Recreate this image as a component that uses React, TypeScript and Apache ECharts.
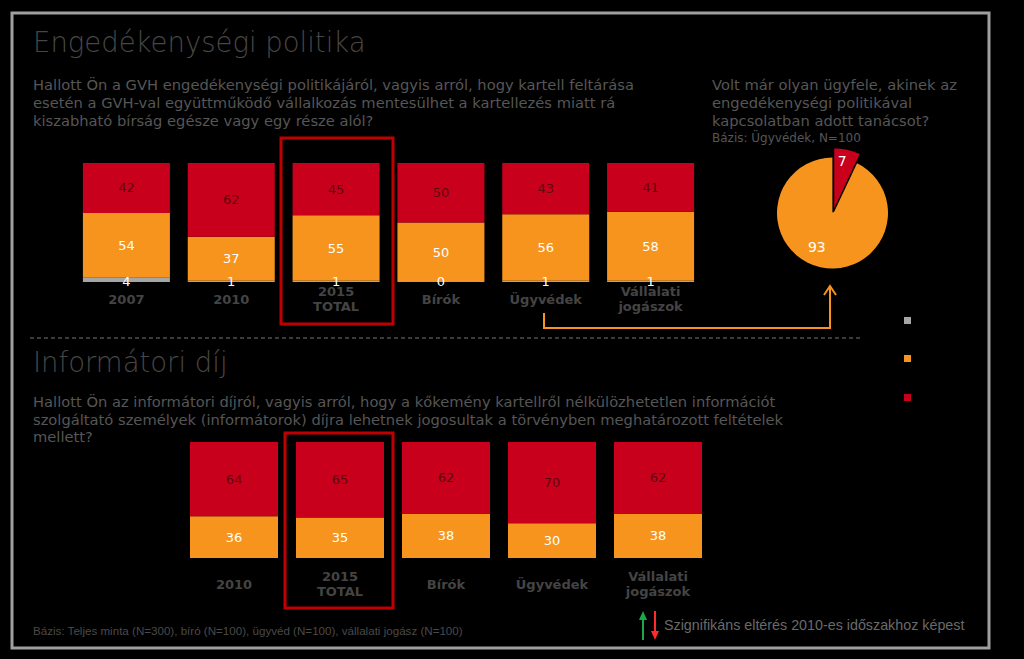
import React, { useEffect, useRef } from 'react';
import * as echarts from 'echarts';

// ---- data ----
const topCategories = ['2007', '2010', '2015\nTOTAL', 'Bírók', 'Ügyvédek', 'Vállalati\njogászok'];
const topNem = [42, 62, 45, 50, 43, 41];
const topIgen = [54, 37, 55, 50, 56, 58];
const topNemTudja = [4, 1, 1, 0, 1, 1];

const bottomCategories = ['2010', '2015\nTOTAL', 'Bírók', 'Ügyvédek', 'Vállalati\njogászok'];
const bottomNem = [64, 65, 62, 70, 62];
const bottomIgen = [36, 35, 38, 30, 38];

const pieNames = ['Nem', 'Igen'];
const pieValues = [7, 93];

const RED = '#c8001c';
const ORANGE = '#f7941e';
const GRAY = '#a6a6a6';
const RED_TXT = '#5c0a10';
const TXT = '#565656';
const TITLE = '#474747';

const titleFont = { fontFamily: "'DejaVu Sans ExtraLight', 'DejaVu Sans'", fontWeight: 200, fontSize: 27.5 };
const qFont = { fontFamily: 'DejaVu Sans', fontSize: 14.7 };

export default function App() {
  const ref = useRef<HTMLDivElement>(null);
  useEffect(() => {
    document.body.style.margin = '0';
    document.body.style.background = '#000';
    const chart = echarts.init(ref.current!, null, { renderer: 'svg' });
    const valLabel = (color: string) => ({
      show: true, position: 'inside', color, fontFamily: 'DejaVu Sans', fontSize: 13,
    });
    const grayLabel = {
      show: true, position: 'bottom', distance: -7, color: '#fff', fontFamily: 'DejaVu Sans', fontSize: 13,
    };
    const xAxisBase = {
      type: 'category',
      axisLine: { show: false },
      axisTick: { show: false },
      axisLabel: {
        color: '#444', fontWeight: 'bold', fontFamily: 'DejaVu Sans', fontSize: 13,
        lineHeight: 15, verticalAlign: 'middle', interval: 0,
      },
    };
    const yAxisBase = { type: 'value', min: 0, max: 100, show: false };
    const pieLabel = { show: true, position: 'inside', color: '#fff', fontFamily: 'DejaVu Sans', fontSize: 14, formatter: '{c}' };

    const option: any = {
      animation: false,
      backgroundColor: '#000',
      grid: [
        { left: 74, top: 163, width: 629, height: 119 },
        { left: 181, top: 442, width: 530, height: 116 },
      ],
      xAxis: [
        { ...xAxisBase, gridIndex: 0, data: topCategories, axisLabel: { ...xAxisBase.axisLabel, margin: 17 } },
        { ...xAxisBase, gridIndex: 1, data: bottomCategories, axisLabel: { ...xAxisBase.axisLabel, margin: 26 } },
      ],
      yAxis: [
        { ...yAxisBase, gridIndex: 0 },
        { ...yAxisBase, gridIndex: 1 },
      ],
      legend: [
        { data: ['Nem tudja'], left: 899, top: 312, icon: 'rect', itemWidth: 7, itemHeight: 7, formatter: () => '', selectedMode: false },
        { data: ['Igen'], left: 899, top: 350, icon: 'rect', itemWidth: 7, itemHeight: 7, formatter: () => '', selectedMode: false },
        { data: ['Nem'], left: 899, top: 389, icon: 'rect', itemWidth: 7, itemHeight: 7, formatter: () => '', selectedMode: false },
      ],
      series: [
        { name: 'Nem tudja', type: 'bar', stack: 'top', xAxisIndex: 0, yAxisIndex: 0, barWidth: 87, data: topNemTudja, itemStyle: { color: GRAY }, label: grayLabel },
        { name: 'Igen', type: 'bar', stack: 'top', xAxisIndex: 0, yAxisIndex: 0, barWidth: 87, data: topIgen, itemStyle: { color: ORANGE }, label: valLabel('#fff') },
        { name: 'Nem', type: 'bar', stack: 'top', xAxisIndex: 0, yAxisIndex: 0, barWidth: 87, data: topNem, itemStyle: { color: RED }, label: valLabel(RED_TXT) },
        { name: 'Igen', type: 'bar', stack: 'bot', xAxisIndex: 1, yAxisIndex: 1, barWidth: 88, data: bottomIgen, itemStyle: { color: ORANGE }, label: valLabel('#fff') },
        { name: 'Nem', type: 'bar', stack: 'bot', xAxisIndex: 1, yAxisIndex: 1, barWidth: 88, data: bottomNem, itemStyle: { color: RED }, label: valLabel(RED_TXT) },
        // pie: main (orange) layer
        {
          name: 'Ügyvédek', type: 'pie', center: [832.5, 213], radius: 55.5, startAngle: 90, clockwise: true,
          silent: true, label: { ...pieLabel }, labelLine: { show: false },
          labelLayout: (p: any) => (p.dataIndex === 1 ? { dx: -9, dy: 4 } : {}),
          data: pieValues.map((v, i) => ({
            value: v, name: pieNames[i],
            itemStyle: { color: i === 0 ? 'rgba(0,0,0,0)' : ORANGE },
            label: { show: i === 1 },
          })),
        },
        // pie: exploded red slice layer
        {
          name: 'Ügyvédek (kiemelt)', type: 'pie', center: [833.5, 211.5], radius: 64, startAngle: 90, clockwise: true,
          silent: true, label: { ...pieLabel }, labelLine: { show: false },
          labelLayout: (p: any) => (p.dataIndex === 0 ? { dx: 1, dy: -16 } : {}),
          itemStyle: { borderColor: '#000', borderWidth: 1.5 },
          data: pieValues.map((v, i) => ({
            value: v, name: pieNames[i],
            itemStyle: i === 0 ? { color: RED } : { color: 'rgba(0,0,0,0)', borderWidth: 0 },
            label: { show: i === 0 },
          })),
        },
      ],
      graphic: [
        { type: 'rect', shape: { x: 12, y: 13, width: 977, height: 635 }, style: { fill: 'none', stroke: '#a0a0a0', lineWidth: 3 } },
        { type: 'text', style: { text: 'Engedékenységi politika', x: 33, y: 42, verticalAlign: 'middle', fill: TITLE, ...titleFont } },
        { type: 'text', style: { text: 'Hallott Ön a GVH engedékenységi politikájáról, vagyis arról, hogy kartell feltárása\nesetén a GVH-val együttműködő vállalkozás mentesülhet a kartellezés miatt rá\nkiszabható bírság egésze vagy egy része alól?', x: 33, y: 75, lineHeight: 18, fill: TXT, ...qFont } },
        { type: 'text', style: { text: 'Volt már olyan ügyfele, akinek az\nengedékenységi politikával\nkapcsolatban adott tanácsot?', x: 712, y: 75, lineHeight: 18, fill: TXT, ...qFont } },
        { type: 'text', style: { text: 'Bázis: Ügyvédek, N=100', x: 712, y: 138, verticalAlign: 'middle', fill: TXT, fontFamily: 'DejaVu Sans', fontSize: 12 } },
        { type: 'line', shape: { x1: 30, y1: 338, x2: 860, y2: 338 }, style: { stroke: '#777', lineWidth: 1, lineDash: [4, 3] } },
        { type: 'text', style: { text: 'Informátori díj', x: 33, y: 362, verticalAlign: 'middle', fill: TITLE, ...titleFont } },
        { type: 'text', style: { text: 'Hallott Ön az informátori díjról, vagyis arról, hogy a kőkemény kartellről nélkülözhetetlen információt\nszolgáltató személyek (informátorok) díjra lehetnek jogosultak a törvényben meghatározott feltételek\nmellett?', x: 33, y: 393, lineHeight: 17.5, fill: TXT, ...qFont } },
        // highlight boxes
        { type: 'rect', shape: { x: 281, y: 138, width: 112, height: 186 }, style: { fill: 'none', stroke: '#c00000', lineWidth: 3 } },
        { type: 'rect', shape: { x: 285, y: 433, width: 108, height: 175 }, style: { fill: 'none', stroke: '#c00000', lineWidth: 3 } },
        // significance arrows in 2015 bar
        { type: 'line', shape: { x1: 362, y1: 165, x2: 362, y2: 190 }, style: { stroke: '#ff2a2a', lineWidth: 2 } },
        { type: 'polyline', shape: { points: [[356, 183], [362, 192], [368, 183]] }, style: { stroke: '#ff2a2a', lineWidth: 2, fill: 'none' } },
        { type: 'line', shape: { x1: 360, y1: 267, x2: 360, y2: 244 }, style: { stroke: '#1aa84a', lineWidth: 3 } },
        { type: 'polygon', shape: { points: [[353, 248], [360, 236], [367, 248]] }, style: { fill: '#1aa84a' } },
        // connector
        { type: 'polyline', shape: { points: [[544, 313], [544, 328], [830, 328], [830, 287]] }, style: { stroke: ORANGE, lineWidth: 2, fill: 'none' } },
        { type: 'polyline', shape: { points: [[824, 295], [830, 286], [836, 295]] }, style: { stroke: ORANGE, lineWidth: 2, fill: 'none' } },
        // footnote
        { type: 'text', style: { text: 'Bázis: Teljes minta (N=300), bíró (N=100), ügyvéd (N=100), vállalati jogász (N=100)', x: 33, y: 630, verticalAlign: 'middle', fill: '#4a4a4a', fontFamily: 'Liberation Sans', fontSize: 11.6 } },
        // significance legend
        { type: 'line', shape: { x1: 643, y1: 640, x2: 643, y2: 618 }, style: { stroke: '#1aa84a', lineWidth: 2 } },
        { type: 'polygon', shape: { points: [[639, 620], [643, 611], [647, 620]] }, style: { fill: '#1aa84a' } },
        { type: 'line', shape: { x1: 655, y1: 611, x2: 655, y2: 633 }, style: { stroke: '#ff2a2a', lineWidth: 2 } },
        { type: 'polygon', shape: { points: [[651, 631], [655, 640], [659, 631]] }, style: { fill: '#ff2a2a' } },
        { type: 'text', style: { text: 'Szignifikáns eltérés 2010-es időszakhoz képest', x: 664, y: 625, verticalAlign: 'middle', fill: '#6a6a6a', fontFamily: 'Liberation Sans', fontSize: 14.3 } },
      ],
    };
    chart.setOption(option);
    return () => chart.dispose();
  }, []);
  return <div ref={ref} style={{ position: 'absolute', left: 0, top: 0, width: 1024, height: 659, background: '#000' }} />;
}
